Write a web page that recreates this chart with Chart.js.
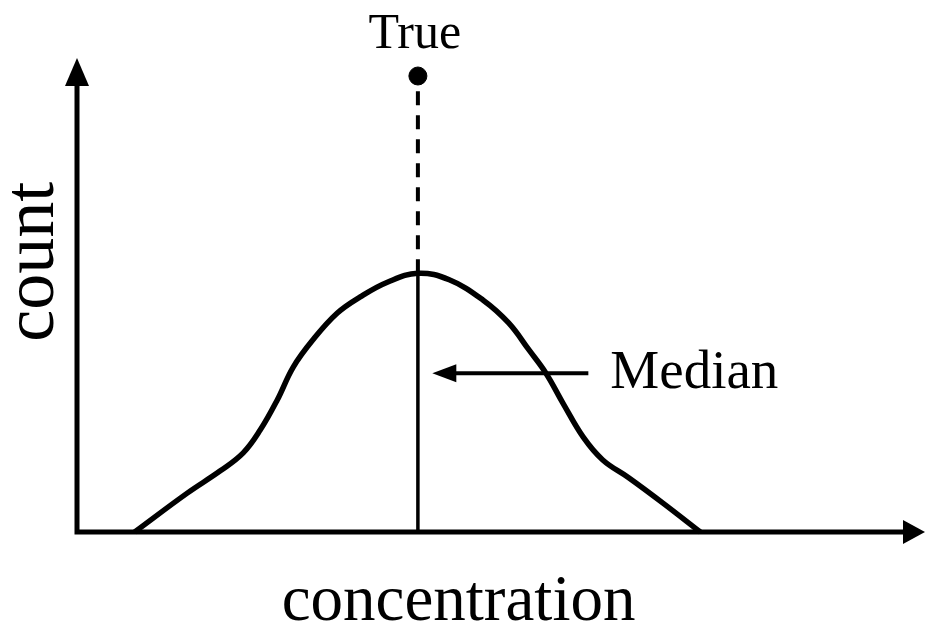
<!DOCTYPE html>
<html>
<head>
<meta charset="utf-8">
<script src="https://cdn.jsdelivr.net/npm/chart.js@4.4.1/dist/chart.umd.min.js"></script>
<style>
  html, body { margin: 0; padding: 0; background: #fff; overflow: hidden; }
  #wrap { width: 926px; height: 623px; overflow: hidden; }
  #c { display: block; }
</style>
</head>
<body>
<div id="wrap"><canvas id="c" width="926" height="623" style="width:926px;height:623px"></canvas></div>
<script>
// concentration (x) and count (y) of the distribution curve
const curveX = [6.8, 13.0, 16.9, 19.6, 21.6, 23.6, 25.5, 27.8, 30.7, 33.4, 36.6, 40.2, 43.9, 47.9, 50.9, 53.3, 55.3, 57.3, 59.7, 62.0, 65.1, 69.1, 73.5];
const curveY = [0, 8.2, 12.9, 16.7, 21.5, 27.8, 34.8, 40.5, 46.2, 49.6, 52.7, 54.6, 53.2, 48.9, 44.1, 38.4, 33.5, 27.2, 20.0, 15.2, 11.4, 6.1, 0];
// median and true values
const medianX = 40.2;
const peakY = 54.6;
const trueX = 40.2;
const trueY = 96.2;
// median annotation arrow (y level, tip x, tail x)
const medianArrowY = 33.5;
const medianArrowTip = 41.9;
const medianArrowTail = 60.3;
// text labels
const xTitle = 'concentration';
const yTitle = 'count';
const trueLabel = 'True';
const medianLabel = 'Median';

const curveData = curveX.map((x, i) => ({ x: x, y: curveY[i] }));

const SERIF = '"Liberation Serif", "DejaVu Serif", serif';

const decor = {
  id: 'decor',
  afterDraw(chart) {
    const ctx = chart.ctx;
    const xs = chart.scales.x, ys = chart.scales.y;
    ctx.save();
    ctx.fillStyle = '#000';
    ctx.strokeStyle = '#000';
    ctx.lineCap = 'butt';
    const ox = xs.getPixelForValue(0), oy = ys.getPixelForValue(0);
    const xEnd = xs.getPixelForValue(100), yEnd = ys.getPixelForValue(100);
    // axes
    ctx.lineWidth = 5;
    ctx.beginPath();
    ctx.moveTo(ox, oy + 2.5);
    ctx.lineTo(ox, yEnd + 26);
    ctx.moveTo(ox - 2.5, oy);
    ctx.lineTo(xEnd - 20, oy);
    ctx.stroke();
    // y arrowhead
    ctx.beginPath();
    ctx.moveTo(ox, yEnd);
    ctx.lineTo(ox - 12, yEnd + 28);
    ctx.lineTo(ox + 12, yEnd + 28);
    ctx.closePath();
    ctx.fill();
    // x arrowhead
    ctx.beginPath();
    ctx.moveTo(xEnd, oy);
    ctx.lineTo(xEnd - 22, oy - 12);
    ctx.lineTo(xEnd - 22, oy + 12);
    ctx.closePath();
    ctx.fill();

    // median arrow
    const ay = ys.getPixelForValue(medianArrowY);
    const tipX = xs.getPixelForValue(medianArrowTip);
    const tailX = xs.getPixelForValue(medianArrowTail);
    ctx.lineWidth = 4;
    ctx.beginPath();
    ctx.moveTo(tipX + 20, ay);
    ctx.lineTo(tailX, ay);
    ctx.stroke();
    ctx.beginPath();
    ctx.moveTo(tipX, ay);
    ctx.lineTo(tipX + 24, ay - 9);
    ctx.lineTo(tipX + 24, ay + 9);
    ctx.closePath();
    ctx.fill();

    // labels
    ctx.textBaseline = 'alphabetic';
    ctx.font = '55px ' + SERIF;
    ctx.textAlign = 'left';
    ctx.fillText(medianLabel, tailX + 22, ay + 15);

    ctx.font = '50px ' + SERIF;
    ctx.textAlign = 'center';
    ctx.fillText(trueLabel, xs.getPixelForValue(trueX) - 3, ys.getPixelForValue(trueY) - 28);

    ctx.font = '65px ' + SERIF;
    ctx.textAlign = 'center';
    ctx.fillText(xTitle, xs.getPixelForValue(45.0), 620);

    ctx.save();
    ctx.translate(53, ys.getPixelForValue(57));
    ctx.rotate(-Math.PI / 2);
    ctx.font = '72px ' + SERIF;
    ctx.textAlign = 'center';
    ctx.fillText(yTitle, 0, 0);
    ctx.restore();

    ctx.restore();
  }
};

new Chart(document.getElementById('c'), {
  type: 'scatter',
  data: {
    datasets: [
      {
        label: 'distribution',
        data: curveData,
        showLine: true,
        borderColor: '#000',
        borderWidth: 5.5,
        pointRadius: 0,
        tension: 0.4,
        clip: false
      },
      {
        label: 'median',
        data: [{ x: medianX, y: 0 }, { x: medianX, y: peakY }],
        showLine: true,
        borderColor: '#000',
        borderWidth: 3.5,
        pointRadius: 0,
        clip: false
      },
      {
        label: 'true-dash',
        data: [{ x: trueX, y: peakY }, { x: trueX, y: trueY }],
        showLine: true,
        borderColor: '#000',
        borderWidth: 4,
        borderDash: [14, 10],
        pointRadius: 0,
        clip: false
      },
      {
        label: 'true',
        data: [{ x: trueX, y: trueY }],
        showLine: false,
        backgroundColor: '#000',
        borderColor: '#000',
        pointRadius: 9,
        clip: false
      }
    ]
  },
  options: {
    responsive: false,
    maintainAspectRatio: false,
    devicePixelRatio: 1,
    animation: false,
    events: [],
    layout: { autoPadding: false, padding: { left: 77, right: 1, top: 58, bottom: 91 } },
    plugins: { legend: { display: false }, tooltip: { enabled: false } },
    scales: {
      x: { type: 'linear', min: 0, max: 100, display: false },
      y: { type: 'linear', min: 0, max: 100, display: false }
    }
  },
  plugins: [decor]
});
</script>
</body>
</html>
